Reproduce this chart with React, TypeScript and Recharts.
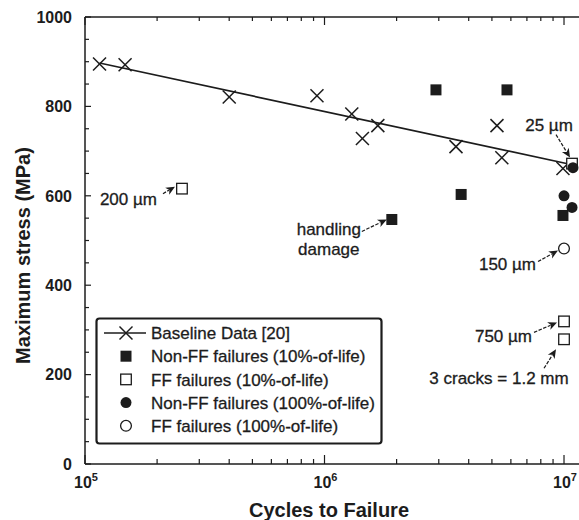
import React from 'react';
import { ScatterChart, Scatter, XAxis, YAxis, Legend, ReferenceDot } from 'recharts';

const FONT = '"Liberation Sans", Arial, Helvetica, sans-serif';
const INK = '#1c1c1c';

// Baseline fatigue data (cycles, MPa)
const baselineCycles = [1.15e5, 1.47e5, 4.0e5, 9.3e5, 1.3e6, 1.44e6, 1.67e6, 3.54e6, 5.25e6, 5.5e6, 9.9e6];
const baselineStress = [895, 893, 821, 824, 783, 728, 757, 710, 757, 685, 661];

// Baseline trend line end points
const fitCycles = [1.15e5, 1.07e7];
const fitStress = [897, 670];

// Non-FF failures (10%-of-life)
const nonFF10Cycles = [1.91e6, 2.92e6, 3.72e6, 5.78e6, 9.9e6];
const nonFF10Stress = [547, 837, 603, 837, 556];

// FF failures (10%-of-life)
const ff10Cycles = [2.54e5, 1.08e7, 1.0e7, 1.0e7];
const ff10Stress = [616, 672, 319, 279];

// Non-FF failures (100%-of-life)
const nonFF100Cycles = [1.0e7, 1.08e7, 1.09e7];
const nonFF100Stress = [600, 574, 663];

// FF failures (100%-of-life)
const ff100Cycles = [1.0e7];
const ff100Stress = [482];

const xDomain = [1e5, 1.155e7];
const xTicks = [
  1e5, 2e5, 3e5, 4e5, 5e5, 6e5, 7e5, 8e5, 9e5,
  1e6, 2e6, 3e6, 4e6, 5e6, 6e6, 7e6, 8e6, 9e6,
  1e7,
];
const xDecades: Record<number, string> = { 100000: '5', 1000000: '6', 10000000: '7' };

const yTicks = [0, 50, 100, 150, 200, 250, 300, 350, 400, 450, 500, 550, 600, 650, 700, 750, 800, 850, 900, 950, 1000];
const yLabels = [0, 200, 400, 600, 800, 1000];

const toPoints = (xs: number[], ys: number[]) => xs.map((x, i) => ({ x, y: ys[i] }));

const baselinePts = toPoints(baselineCycles, baselineStress);
const fitPts = toPoints(fitCycles, fitStress);
const nonFF10Pts = toPoints(nonFF10Cycles, nonFF10Stress);
const ff10Pts = toPoints(ff10Cycles, ff10Stress);
const nonFF100Pts = toPoints(nonFF100Cycles, nonFF100Stress);
const ff100Pts = toPoints(ff100Cycles, ff100Stress);

type Note = {
  px: { x: number; y: number };
  lines: string[];
  anchor: 'start' | 'middle' | 'end';
  tx: number;
  ty: number;
  from: [number, number];
  to: [number, number];
};

// Callouts, positioned in pixels relative to the marker they point at
const notes: Note[] = [
  { px: ff10Pts[0], lines: ['200 µm'], anchor: 'end', tx: -25, ty: 10, from: [-19, 5], to: [-7, -2] },
  { px: nonFF10Pts[0], lines: ['handling', 'damage'], anchor: 'middle', tx: -63, ty: 9, from: [-30, 12], to: [-5, 0] },
  { px: ff10Pts[1], lines: ['25 µm'], anchor: 'middle', tx: -23, ty: -39, from: [-16, -29], to: [-2, -6] },
  { px: ff100Pts[0], lines: ['150 µm'], anchor: 'end', tx: -28, ty: 15, from: [-26, 13], to: [-6, 2] },
  { px: ff10Pts[2], lines: ['750 µm'], anchor: 'end', tx: -32, ty: 14, from: [-30, 11], to: [-7, 1] },
  { px: ff10Pts[3], lines: ['3 cracks = 1.2 mm'], anchor: 'middle', tx: -65, ty: 39, from: [-20, 29], to: [-8, 10] },
];

const CrossShape = (p: any) => {
  const { cx, cy } = p;
  const h = 6.5;
  return (
    <g stroke={INK} strokeWidth={1.5}>
      <line x1={cx - h} y1={cy - h} x2={cx + h} y2={cy + h} />
      <line x1={cx - h} y1={cy + h} x2={cx + h} y2={cy - h} />
    </g>
  );
};
const FilledSquare = (p: any) => <rect x={p.cx - 5.5} y={p.cy - 5.5} width={11} height={11} fill={INK} />;
const OpenSquare = (p: any) => (
  <rect x={p.cx - 5.3} y={p.cy - 5.3} width={10.6} height={10.6} fill="#fff" stroke={INK} strokeWidth={1.3} />
);
const FilledCircle = (p: any) => <circle cx={p.cx} cy={p.cy} r={5.5} fill={INK} />;
const OpenCircle = (p: any) => <circle cx={p.cx} cy={p.cy} r={5.4} fill="#fff" stroke={INK} strokeWidth={1.3} />;
const NoShape = () => <g />;

const BottomTick = (props: any) => {
  const { x, y, payload } = props;
  const exp = xDecades[payload.value];
  return (
    <g>
      <line x1={x} x2={x} y1={y} y2={y - (exp ? 9 : 5)} stroke={INK} strokeWidth={1.2} />
      {exp && (
        <text x={x + 1} y={y + 24} textAnchor="middle" fontFamily={FONT} fontWeight="bold" fontSize={16} fill={INK}>
          <tspan>10</tspan>
          <tspan dy={-7} fontSize={11}>{exp}</tspan>
        </text>
      )}
    </g>
  );
};

const TopTick = (props: any) => {
  const { x, y, payload } = props;
  const exp = xDecades[payload.value];
  return <line x1={x} x2={x} y1={y} y2={y + (exp ? 8 : 4)} stroke={INK} strokeWidth={1.2} />;
};

const LeftTick = (props: any) => {
  const { x, y, payload } = props;
  const major = yLabels.includes(payload.value);
  return (
    <g>
      <line x1={x} x2={x + (major ? 6 : 4)} y1={y} y2={y} stroke={INK} strokeWidth={1.2} />
      {major && (
        <text x={x - 13} y={y} dy="0.36em" textAnchor="end" fontFamily={FONT} fontWeight="bold" fontSize={16} fill={INK}>
          {payload.value}
        </text>
      )}
    </g>
  );
};

// Regular-weight labels get a hairline stroke so they read a touch heavier
const bodyText = { fontFamily: FONT, fontSize: 17, fill: INK, stroke: INK, strokeWidth: 0.3 };

const Callout = (note: Note) => (p: any) => {
  const { cx, cy } = p;
  const x1 = cx + note.from[0];
  const y1 = cy + note.from[1];
  const x2 = cx + note.to[0];
  const y2 = cy + note.to[1];
  const dx = x2 - x1;
  const dy = y2 - y1;
  const len = Math.hypot(dx, dy);
  const ux = dx / len;
  const uy = dy / len;
  const hl = 9;
  const hw = 4;
  const bx = x2 - ux * hl;
  const by = y2 - uy * hl;
  const head = `${x2},${y2} ${bx - uy * hw},${by + ux * hw} ${bx + ux * 2.5},${by + uy * 2.5} ${bx + uy * hw},${by - ux * hw}`;
  return (
    <g>
      <line x1={x1} y1={y1} x2={bx + ux * 2} y2={by + uy * 2} stroke={INK} strokeWidth={1.2} strokeDasharray="3.5 1.5" />
      <polygon points={head} fill={INK} />
      {note.lines.map((t, i) => (
        <text key={t} x={cx + note.tx} y={cy + note.ty + i * 20} dy="0.36em" textAnchor={note.anchor} {...bodyText}>
          {t}
        </text>
      ))}
    </g>
  );
};

type Row = { name: string; shape: 'cross' | 'fsq' | 'osq' | 'fci' | 'oci' };
const legendRows: Row[] = [
  { name: 'Baseline Data [20]', shape: 'cross' },
  { name: 'Non-FF failures (10%-of-life)', shape: 'fsq' },
  { name: 'FF failures (10%-of-life)', shape: 'osq' },
  { name: 'Non-FF failures (100%-of-life)', shape: 'fci' },
  { name: 'FF failures (100%-of-life)', shape: 'oci' },
];

const LegendBox = () => (
  <svg width={288} height={128} style={{ display: 'block' }}>
    <rect x={1.5} y={1.5} width={285} height={125} rx={3} fill="#fff" stroke={INK} strokeWidth={2.2} />
    {legendRows.map((r, i) => {
      const cy = 16 + i * 23.2;
      const cx = 31;
      let sym: React.ReactNode = null;
      if (r.shape === 'cross') {
        sym = (
          <g>
            <line x1={9} x2={51} y1={cy} y2={cy} stroke={INK} strokeWidth={1.5} />
            <CrossShape cx={cx} cy={cy} />
          </g>
        );
      } else if (r.shape === 'fsq') sym = <FilledSquare cx={cx} cy={cy} />;
      else if (r.shape === 'osq') sym = <OpenSquare cx={cx} cy={cy} />;
      else if (r.shape === 'fci') sym = <FilledCircle cx={cx} cy={cy} />;
      else sym = <OpenCircle cx={cx} cy={cy} />;
      return (
        <g key={r.name}>
          {sym}
          <text x={56} y={cy} dy="0.36em" {...bodyText}>
            {r.name}
          </text>
        </g>
      );
    })}
  </svg>
);

const YTitle = (p: any) => {
  const vb = p.viewBox;
  const cx = 23;
  const cy = vb.y + vb.height / 2 + 15;
  return (
    <text x={cx} y={cy} transform={`rotate(-90 ${cx} ${cy})`} textAnchor="middle" dy="0.36em" fontFamily={FONT} fontWeight="bold" fontSize={20} fill={INK}>
      Maximum stress (MPa)
    </text>
  );
};

const XTitle = (p: any) => {
  const vb = p.viewBox;
  return (
    <text x={329} y={vb.y + 46} textAnchor="middle" dy="0.36em" fontFamily={FONT} fontWeight="bold" fontSize={20} fill={INK}>
      Cycles to Failure
    </text>
  );
};

export default function App() {
  return (
    <div style={{ position: 'absolute', left: 0, top: 0, background: '#fff' }}>
      <ScatterChart width={579} height={520} margin={{ top: 0, right: 0, bottom: 0, left: 0 }}>
        <XAxis
          dataKey="x"
          type="number"
          scale="log"
          domain={xDomain}
          allowDataOverflow
          ticks={xTicks}
          interval={0}
          height={56}
          tickSize={0}
          tickMargin={0}
          tickLine={false}
          tick={<BottomTick />}
          axisLine={{ stroke: INK, strokeWidth: 1.5 }}
          label={<XTitle />}
        />
        <XAxis
          xAxisId="top"
          orientation="top"
          dataKey="x"
          type="number"
          scale="log"
          domain={xDomain}
          allowDataOverflow
          ticks={xTicks}
          interval={0}
          height={17}
          tickSize={0}
          tickMargin={0}
          tickLine={false}
          tick={<TopTick />}
          axisLine={{ stroke: INK, strokeWidth: 1.5 }}
        />
        <YAxis
          dataKey="y"
          type="number"
          domain={[0, 1000]}
          ticks={yTicks}
          interval={0}
          width={85}
          tickSize={0}
          tickMargin={0}
          tickLine={false}
          tick={<LeftTick />}
          axisLine={{ stroke: INK, strokeWidth: 1.5 }}
          label={<YTitle />}
        />
        <Scatter name="Baseline Data [20]" data={fitPts} line={{ stroke: INK, strokeWidth: 1.7 }} shape={<NoShape />} isAnimationActive={false} />
        <Scatter name="Baseline points" data={baselinePts} shape={<CrossShape />} isAnimationActive={false} />
        <Scatter name="Non-FF failures (10%-of-life)" data={nonFF10Pts} shape={<FilledSquare />} isAnimationActive={false} />
        <Scatter name="FF failures (10%-of-life)" data={ff10Pts} shape={<OpenSquare />} isAnimationActive={false} />
        <Scatter name="Non-FF failures (100%-of-life)" data={nonFF100Pts} shape={<FilledCircle />} isAnimationActive={false} />
        <Scatter name="FF failures (100%-of-life)" data={ff100Pts} shape={<OpenCircle />} isAnimationActive={false} />
        {notes.map((n, i) => (
          <ReferenceDot key={i} x={n.px.x} y={n.px.y} r={0} ifOverflow="visible" shape={Callout(n)} />
        ))}
        <Legend
          layout="horizontal"
          align="center"
          verticalAlign="middle"
          content={<LegendBox />}
          wrapperStyle={{ left: 95, top: 317, width: 288, height: 128 }}
        />
      </ScatterChart>
    </div>
  );
}
